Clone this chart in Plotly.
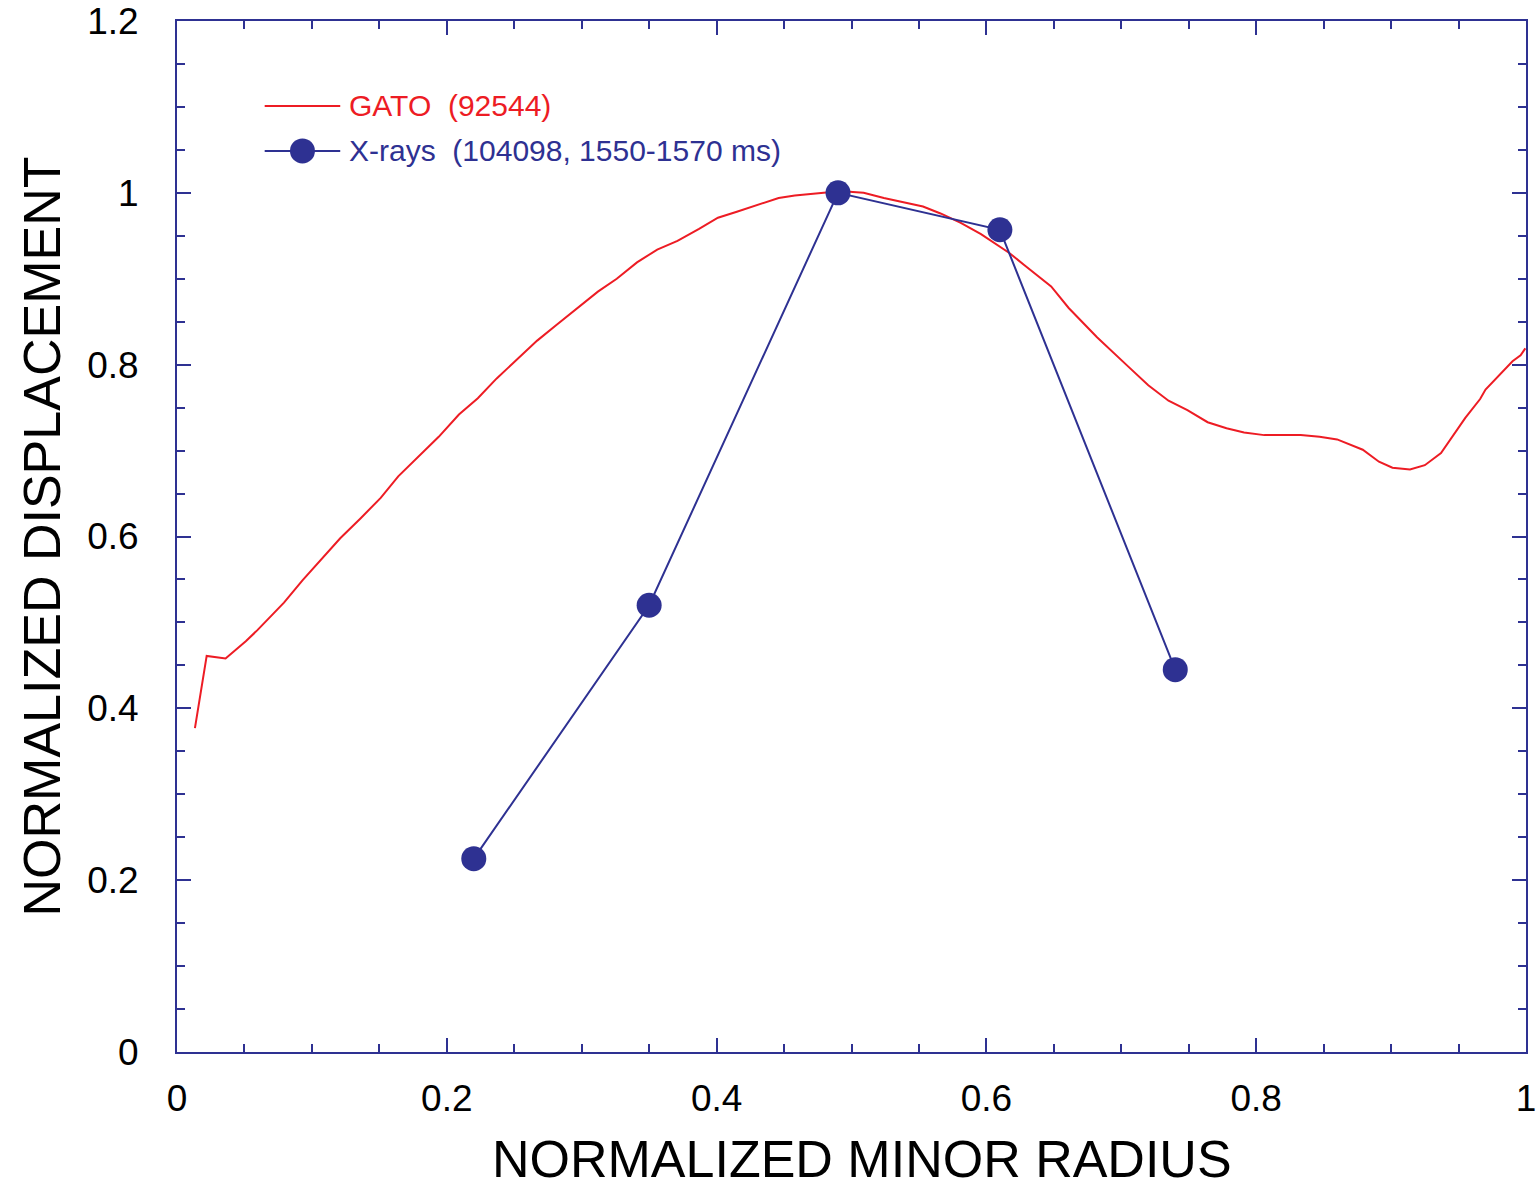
import plotly.graph_objects as go

# GATO computed eigenfunction (shot 92544)
gato_r = [0.0133, 0.022, 0.036, 0.051, 0.0596, 0.0793, 0.093, 0.107, 0.121, 0.136,
          0.151, 0.164, 0.179, 0.194, 0.209, 0.223, 0.237, 0.252, 0.267, 0.281,
          0.295, 0.312, 0.326, 0.341, 0.356, 0.371, 0.387, 0.401, 0.415, 0.431,
          0.446, 0.458, 0.474, 0.485, 0.493, 0.501, 0.509, 0.524, 0.553, 0.566,
          0.581, 0.596, 0.617, 0.628, 0.636, 0.648, 0.661, 0.682, 0.705, 0.720,
          0.735, 0.749, 0.764, 0.778, 0.791, 0.806, 0.833, 0.847, 0.860, 0.879,
          0.891, 0.901, 0.914, 0.925, 0.937, 0.955, 0.966, 0.970, 0.990, 0.996,
          0.9995]
gato_disp = [0.377, 0.461, 0.458, 0.478, 0.491, 0.523, 0.549, 0.573, 0.598, 0.621,
             0.645, 0.670, 0.693, 0.716, 0.742, 0.761, 0.784, 0.806, 0.828, 0.846,
             0.864, 0.885, 0.900, 0.919, 0.934, 0.944, 0.958, 0.971, 0.978, 0.986,
             0.994, 0.997, 0.999, 1.001, 1.002, 1.001, 1.000, 0.994, 0.984, 0.976,
             0.965, 0.952, 0.930, 0.916, 0.906, 0.891, 0.866, 0.832, 0.798, 0.776,
             0.758, 0.747, 0.733, 0.726, 0.721, 0.718, 0.718, 0.716, 0.713, 0.701,
             0.687, 0.680, 0.678, 0.683, 0.697, 0.738, 0.760, 0.771, 0.804, 0.811,
             0.819]

# Soft X-ray measurement (shot 104098, 1550-1570 ms)
xray_r = [0.22, 0.35, 0.49, 0.61, 0.74]
xray_disp = [0.225, 0.52, 1.0, 0.957, 0.445]

x_ticks = [0, 0.2, 0.4, 0.6, 0.8, 1]
y_ticks = [0, 0.2, 0.4, 0.6, 0.8, 1, 1.2]

gato_label = "GATO  (92544)"
xray_label = "X-rays  (104098, 1550-1570 ms)"
x_title = "NORMALIZED MINOR RADIUS"
y_title = "NORMALIZED DISPLACEMENT"

RED = "#ed1c24"
NAVY = "#2e3192"
FONT = "Liberation Sans, Arial, Helvetica, sans-serif"

fig = go.Figure()
fig.add_trace(go.Scatter(x=gato_r, y=gato_disp, mode="lines",
                         line=dict(color=RED, width=2), name=gato_label,
                         showlegend=False))
fig.add_trace(go.Scatter(x=xray_r, y=xray_disp, mode="lines+markers",
                         line=dict(color=NAVY, width=2),
                         marker=dict(color=NAVY, size=25),
                         name=xray_label, showlegend=False))

axis_common = dict(
    showline=True, linecolor=NAVY, linewidth=2, mirror="allticks",
    ticks="inside", ticklen=14, tickwidth=2, tickcolor=NAVY,
    showgrid=False, zeroline=False, automargin=False,
    tickfont=dict(family=FONT, size=37, color="black"),
)

fig.update_xaxes(range=[0, 1], tickvals=x_ticks, ticklabelstandoff=13,
                 minor=dict(ticks="inside", ticklen=8, tickwidth=2,
                            tickcolor=NAVY, dtick=0.05, tick0=0),
                 **axis_common)
fig.update_yaxes(range=[0, 1.2], tickvals=y_ticks, ticklabelstandoff=29,
                 minor=dict(ticks="inside", ticklen=8, tickwidth=2,
                            tickcolor=NAVY, dtick=0.05, tick0=0),
                 title=dict(text=y_title,
                            font=dict(family=FONT, size=52, color="black"),
                            standoff=10),
                 **axis_common)

# horizontal axis title, set slightly right of the frame centre
fig.add_annotation(xref="paper", yref="paper", x=0.508, y=-0.1035,
                   xanchor="center", yanchor="middle", showarrow=False,
                   text=x_title, font=dict(family=FONT, size=52, color="black"))

# hand-drawn legend in the upper-left corner of the frame
legend_x0, legend_x1 = 0.065, 0.121
legend_y = [0.9176, 0.874]
fig.add_shape(type="line", xref="paper", yref="paper",
              x0=legend_x0, x1=legend_x1, y0=legend_y[0], y1=legend_y[0],
              line=dict(color=RED, width=2))
fig.add_shape(type="line", xref="paper", yref="paper",
              x0=legend_x0, x1=legend_x1, y0=legend_y[1], y1=legend_y[1],
              line=dict(color=NAVY, width=2))
fig.add_shape(type="circle", xref="paper", yref="paper",
              xsizemode="pixel", ysizemode="pixel",
              xanchor=(legend_x0 + legend_x1) / 2, yanchor=legend_y[1],
              x0=-12.5, x1=12.5, y0=-12.5, y1=12.5,
              fillcolor=NAVY, line=dict(color=NAVY, width=0))
fig.add_annotation(xref="paper", yref="paper", x=legend_x1 + 0.005, y=legend_y[0],
                   xanchor="left", yanchor="middle", showarrow=False,
                   text=gato_label, font=dict(family=FONT, size=30, color=RED))
fig.add_annotation(xref="paper", yref="paper", x=legend_x1 + 0.005, y=legend_y[1],
                   xanchor="left", yanchor="middle", showarrow=False,
                   text=xray_label, font=dict(family=FONT, size=30, color=NAVY))

fig.update_layout(
    width=1539, height=1189,
    margin=dict(l=177, r=13, t=21, b=137),
    paper_bgcolor="white", plot_bgcolor="white",
    showlegend=False,
)

fig.write_html("out.html")
